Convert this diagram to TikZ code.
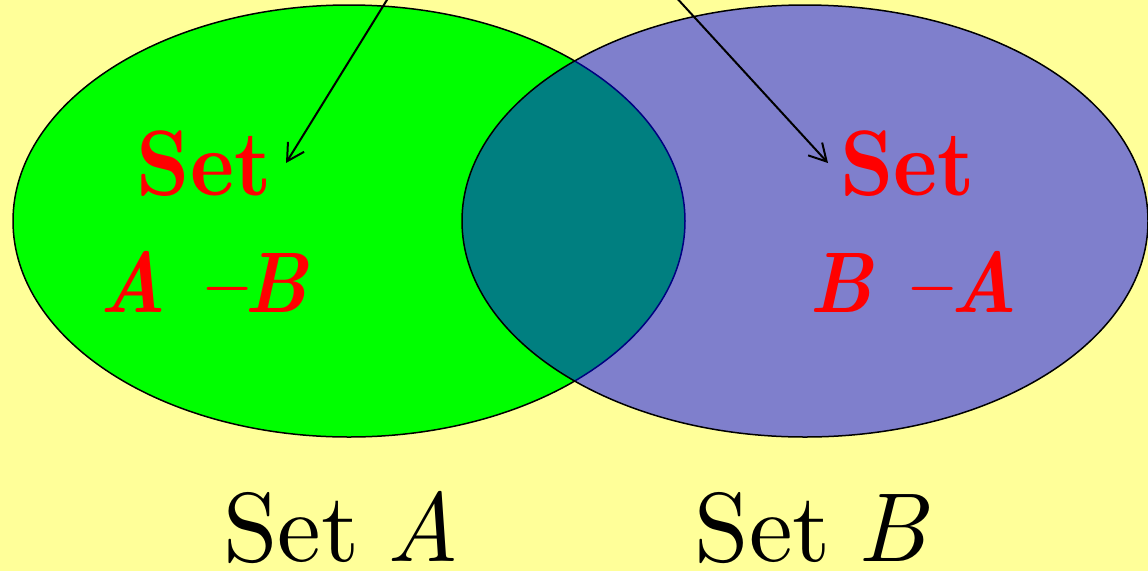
\documentclass[tikz,border=0pt]{standalone}
\usepackage{fontspec}
\setmainfont{lmroman10-regular.otf}[ItalicFont=lmroman10-italic.otf, BoldFont=lmroman10-bold.otf, BoldItalicFont=lmroman10-bolditalic.otf]
\newfontfamily\setboldfam{lmroman10-bold.otf}[FakeStretch=0.9]
\newfontfamily\setbolditfam{lmroman10-bolditalic.otf}[FakeStretch=0.9]
\usetikzlibrary{shapes.geometric,arrows.meta}
\definecolor{bgyellow}{RGB}{255,255,153}
\definecolor{setred}{RGB}{255,0,0}
\definecolor{setgreen}{RGB}{0,255,0}
\definecolor{setblue}{RGB}{0,0,255}
\tikzset{
  setellipse/.style={ellipse, inner sep=0pt, outer sep=0pt, draw=black, line width=1.5pt},
  redlabel/.style={anchor=base, inner sep=0pt, text depth=0pt, text=setred, font=\setboldfam\fontsize{93}{110}\selectfont},
  redformula/.style={anchor=base, inner sep=0pt, text depth=0pt, text=setred, font=\setbolditfam\fontsize{86}{110}\selectfont},
  setname/.style={anchor=base, inner sep=0pt, text depth=0pt, text=black, font=\fontsize{98}{116}\selectfont},
  pointer/.style={draw=black, line width=2pt, -{Straight Barb[length=17pt,width=19pt,line width=2pt]}}
}
\begin{document}
\begin{tikzpicture}[x=1pt,y=-1pt]
  \fill[bgyellow] (0,0) rectangle (1148,571);
  \useasboundingbox (0,0) rectangle (1148,571);
  \node[setellipse, fill=setgreen, minimum width=672pt, minimum height=432pt] (A) at (349,221) {};
  \node[setellipse, fill=setblue, fill opacity=0.5, minimum width=686pt, minimum height=432pt] (B) at (805,221) {};
  \node[redlabel] (setAB) at (204.5,195) {Set};
  \node[redformula] (AminusB) at (204,312) {A –B};
  \node[redlabel] (setBA) at (907.5,195) {Set};
  \node[redformula] (BminusA) at (913.5,312) {B –A};
  \node[setname] (nameA) at (341,561) {Set\hspace{-0.06em} \textit{A}};
  \node[setname] (nameB) at (812,561) {Set\hspace{-0.06em} \textit{B}};
  \coordinate (p1s) at (390,-5);
  \coordinate (p1e) at (286,163);
  \coordinate (p2s) at (674,-5);
  \coordinate (p2e) at (828,163);
  \draw[pointer] (p1s) -- (p1e);
  \draw[pointer] (p2s) -- (p2e);
\end{tikzpicture}
\end{document}
